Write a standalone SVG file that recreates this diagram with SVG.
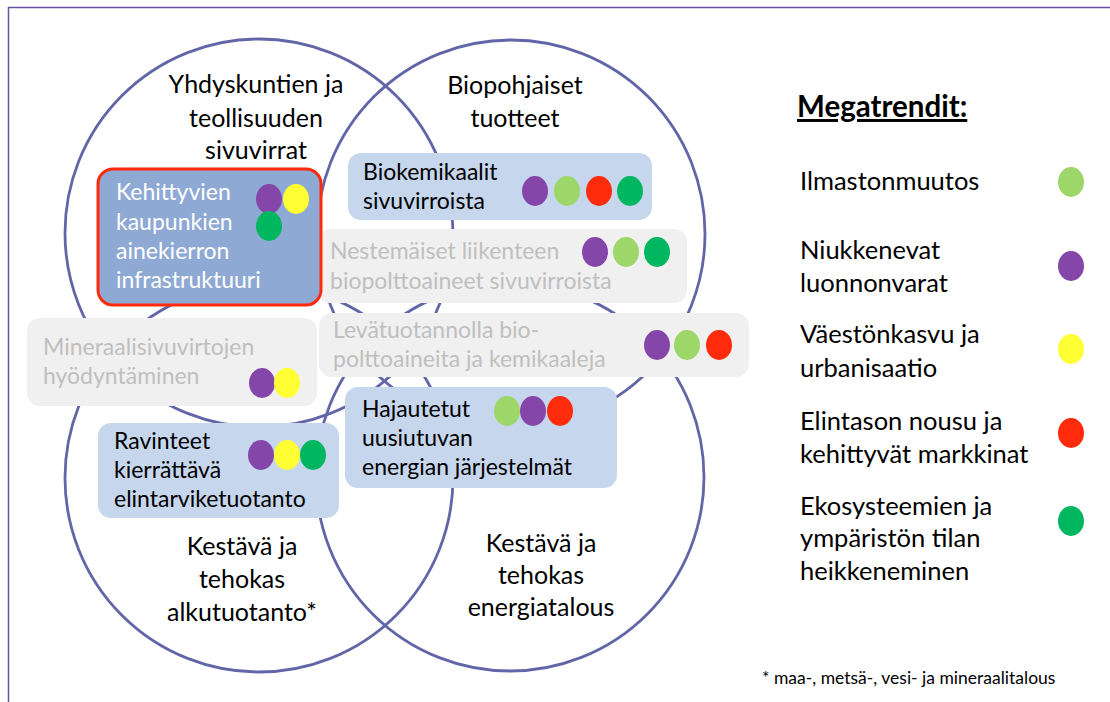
<svg xmlns="http://www.w3.org/2000/svg" width="1110" height="702" viewBox="0 0 1110 702">
<style>
.ring{fill:none;stroke:#6266a8;stroke-width:2.8}
.lbl{font-family:Lato,"Liberation Sans",sans-serif;font-size:25px;fill:#000;text-anchor:middle}
.bt{font-family:Lato,"Liberation Sans",sans-serif;font-size:23px;fill:#000}
.bw{fill:#fff}
.bg{fill:#bfbfbf}
.blue{fill:#c6d6ec}
.grey{fill:#f0f0f0}
.lg{font-family:Lato,"Liberation Sans",sans-serif;font-size:25.5px;fill:#000}
.pu{fill:#8446a9}.lgr{fill:#9dd76a}.rd{fill:#ff2b0b}.ye{fill:#ffff33}.gr{fill:#00b65f}
</style>
<rect width="1110" height="702" fill="#fff"/>
<path d="M8.5 702 V7.5 H1110" fill="none" stroke="#6b4fa0" stroke-width="1.5"/>
<g id="circles">
<circle id="c-sivuvirrat" class="ring" cx="259" cy="233" r="194"/>
<circle id="c-bio" class="ring" cx="511" cy="234" r="194"/>
<circle id="c-alku" class="ring" cx="259" cy="478" r="194"/>
<circle id="c-energia" class="ring" cx="510" cy="477" r="194"/>
</g>
<g id="circle-labels">
<text class="lbl" x="256" y="93">Yhdyskuntien ja</text>
<text class="lbl" x="256" y="127">teollisuuden</text>
<text class="lbl" x="256" y="159">sivuvirrat</text>
<text class="lbl" x="515" y="94">Biopohjaiset</text>
<text class="lbl" x="515" y="127">tuotteet</text>
<text class="lbl" x="242" y="555">Kestävä ja</text>
<text class="lbl" x="242" y="588">tehokas</text>
<text class="lbl" x="242" y="621">alkutuotanto*</text>
<text class="lbl" x="541" y="552">Kestävä ja</text>
<text class="lbl" x="541" y="584">tehokas</text>
<text class="lbl" x="541" y="616">energiatalous</text>
</g>
<g id="box-nestemaiset">
<rect class="grey" x="317" y="229" width="370" height="74" rx="13"/>
<text class="bt bg" x="330" y="259">Nestemäiset liikenteen</text>
<text class="bt bg" x="330" y="289">biopolttoaineet sivuvirroista</text>
<ellipse class="pu" cx="595" cy="252" rx="13" ry="15"/>
<ellipse class="lgr" cx="626" cy="252" rx="13" ry="15"/>
<ellipse class="gr" cx="657" cy="252" rx="13" ry="15"/>
</g>
<g id="box-leva">
<rect class="grey" x="319" y="313" width="430" height="64" rx="13"/>
<text class="bt bg" x="333" y="338">Levätuotannolla bio-</text>
<text class="bt bg" x="333" y="367">polttoaineita ja kemikaaleja</text>
<ellipse class="pu" cx="657" cy="345" rx="13" ry="15"/>
<ellipse class="lgr" cx="687" cy="345" rx="13" ry="15"/>
<ellipse class="rd" cx="719" cy="345" rx="13" ry="15"/>
</g>
<g id="box-mineraali">
<rect class="grey" x="27" y="318" width="290" height="88" rx="13"/>
<text class="bt bg" x="43" y="355">Mineraalisivuvirtojen</text>
<text class="bt bg" x="43" y="384">hyödyntäminen</text>
<ellipse class="pu" cx="262" cy="383" rx="13" ry="15"/>
<ellipse class="ye" cx="287" cy="383" rx="13" ry="15"/>
</g>
<g id="box-biokemikaalit">
<rect class="blue" x="348" y="153" width="304" height="67" rx="13"/>
<text class="bt" x="363" y="180">Biokemikaalit</text>
<text class="bt" x="363" y="209">sivuvirroista</text>
<ellipse class="pu" cx="535" cy="191" rx="13" ry="15"/>
<ellipse class="lgr" cx="567" cy="191" rx="13" ry="15"/>
<ellipse class="rd" cx="599" cy="191" rx="13" ry="15"/>
<ellipse class="gr" cx="630" cy="191" rx="13" ry="15"/>
</g>
<g id="box-kehittyvien">
<rect x="98" y="169" width="223" height="136" rx="15" fill="#8fa9d5" stroke="#ff2b0b" stroke-width="3"/>
<text class="bt bw" x="116" y="200">Kehittyvien</text>
<text class="bt bw" x="116" y="230">kaupunkien</text>
<text class="bt bw" x="116" y="259">ainekierron</text>
<text class="bt bw" x="116" y="288">infrastruktuuri</text>
<ellipse class="pu" cx="269" cy="199" rx="13" ry="15"/>
<ellipse class="ye" cx="296" cy="199" rx="13" ry="15"/>
<ellipse class="gr" cx="269" cy="226" rx="13" ry="15"/>
</g>
<g id="box-ravinteet">
<rect class="blue" x="98" y="423" width="241" height="95" rx="13"/>
<text class="bt" x="114" y="449">Ravinteet</text>
<text class="bt" x="114" y="478">kierrättävä</text>
<text class="bt" x="114" y="507">elintarviketuotanto</text>
<ellipse class="pu" cx="261" cy="455" rx="13" ry="15"/>
<ellipse class="ye" cx="287" cy="455" rx="13" ry="15"/>
<ellipse class="gr" cx="313" cy="455" rx="13" ry="15"/>
</g>
<g id="box-hajautetut">
<rect class="blue" x="345" y="387" width="272" height="101" rx="13"/>
<text class="bt" x="362" y="417">Hajautetut</text>
<text class="bt" x="362" y="446">uusiutuvan</text>
<text class="bt" x="362" y="475">energian järjestelmät</text>
<ellipse class="lgr" cx="507" cy="411" rx="13" ry="15"/>
<ellipse class="pu" cx="533" cy="411" rx="13" ry="15"/>
<ellipse class="rd" cx="560" cy="411" rx="13" ry="15"/>
</g>
<g id="legend">
<text x="797" y="117" font-family="Lato,'Liberation Sans',sans-serif" font-size="29.5" font-weight="bold" text-decoration="underline">Megatrendit:</text>
<text class="lg" x="800" y="190">Ilmastonmuutos</text>
<ellipse class="lgr" cx="1071" cy="182" rx="13" ry="15"/>
<text class="lg" x="800" y="259">Niukkenevat</text>
<text class="lg" x="800" y="292">luonnonvarat</text>
<ellipse class="pu" cx="1071" cy="266" rx="13" ry="15"/>
<text class="lg" x="800" y="343">Väestönkasvu ja</text>
<text class="lg" x="800" y="377">urbanisaatio</text>
<ellipse class="ye" cx="1071" cy="349" rx="13" ry="15"/>
<text class="lg" x="800" y="430">Elintason nousu ja</text>
<text class="lg" x="800" y="463">kehittyvät markkinat</text>
<ellipse class="rd" cx="1071" cy="433" rx="13" ry="15"/>
<text class="lg" x="800" y="515">Ekosysteemien ja</text>
<text class="lg" x="800" y="547">ympäristön tilan</text>
<text class="lg" x="800" y="580">heikkeneminen</text>
<ellipse class="gr" cx="1071" cy="521" rx="13" ry="15"/>
<text x="762" y="684" font-family="Lato,'Liberation Sans',sans-serif" font-size="17.5">* maa-, metsä-, vesi- ja mineraalitalous</text>
</g>
</svg>
